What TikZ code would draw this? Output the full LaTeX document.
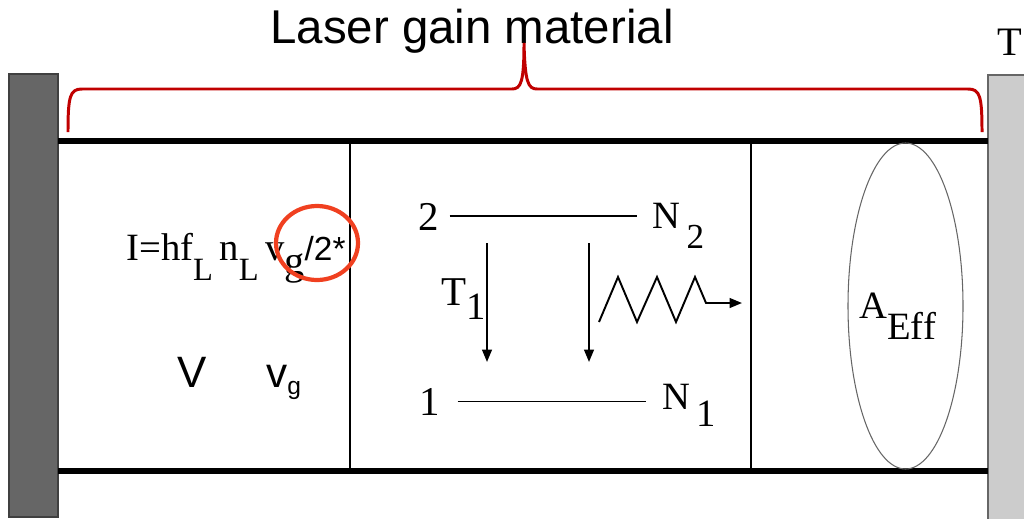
\documentclass[tikz,border=0pt]{standalone}
\usepackage{fontspec}
\setmainfont{Liberation Serif}
\newfontfamily\arialfont{Liberation Sans}
\usepackage{tikz}
\usetikzlibrary{arrows.meta}
\definecolor{mirrordark}{RGB}{102, 102, 102}
\definecolor{mirrorlight}{RGB}{204, 204, 204}
\definecolor{bracered}{RGB}{192, 0, 0}
\definecolor{markred}{RGB}{240, 64, 32}
\newcommand{\dnsub}[3]{\raisebox{-#1}{\fontsize{#2}{#2}\selectfont #3}}

\begin{document}
\begin{tikzpicture}[
    x=0.02cm, y=-0.02cm,
    >={Triangle[length=7pt, width=5.5pt]},
    % Text Styles
    serif/.style={inner sep=0pt, anchor=base west, font=\fontsize{#1}{#1}\selectfont},
    sans/.style={inner sep=0pt, anchor=base west, font=\arialfont\fontsize{#1}{#1}\selectfont},
    % Shape Styles
    mirror/.style={fill=#1, draw=black!75, line width=0.8pt},
    wall/.style={line width=2.9pt, color=black},
    divider/.style={line width=0.8pt, color=black},
    level/.style={line width=1.1pt, color=black},
    decay/.style={->, line width=1.1pt, color=black},
    beam/.style={line width=0.6pt, color=black!60},
    bracepath/.style={line width=1.7pt, color=bracered},
    highlight/.style={line width=2.4pt, color=markred}
]
    \useasboundingbox (0,0) rectangle (1024,518);

    % =========================================================================
    % 1. MIRRORS & CAVITY
    % =========================================================================
    \draw[mirror=mirrordark] (9,74) rectangle (58,517);
    \draw[mirror=mirrorlight, draw=black!60] (988,75) rectangle (1030,525);
    \draw[wall] (58,141) -- (988,141);
    \draw[wall] (58,471) -- (988,471);
    \draw[divider] (350,141) -- (350,471);
    \draw[divider] (751,141) -- (751,471);

    % =========================================================================
    % 2. TITLE & BRACE
    % =========================================================================
    \node[sans=27pt, anchor=base] (title) at (472,43) {Laser gain material};
    \node[serif=23pt] (t_out) at (997,55) {T};
    \draw[bracepath] (68,132) .. controls (68,96) and (70,89) .. (82,89) -- (512,89)
      .. controls (521,89) and (524,82) .. (524,43)
      .. controls (525,82) and (528,89) .. (537,89) -- (968,89)
      .. controls (980,89) and (982,96) .. (982,132);

    % =========================================================================
    % 3. LEFT: INTENSITY
    % =========================================================================
    \node[serif=22pt] (intensity) at (126,260) {I=hf\dnsub{11.4pt}{18.5pt}{L}\,n\dnsub{11.4pt}{18.5pt}{L}\,v\dnsub{8pt}{23pt}{g}{\arialfont\fontsize{19pt}{19pt}\selectfont/2*}};
    \draw[highlight] (317,243) circle [x radius=41, y radius=37];
    \node[sans=25pt] (vol) at (177,387) {V};
    \node[sans=24pt] (v_grp) at (266,387) {v\dnsub{4.5pt}{14pt}{g}};

    % =========================================================================
    % 4. MIDDLE: TWO-LEVEL SYSTEM
    % =========================================================================
    \node[serif=23.3pt] (lvl_up) at (418,230) {2};
    \node[serif=22pt] (n_up) at (652,228) {N\,\dnsub{11.4pt}{20pt}{2}};
    \node[serif=23.3pt] (lvl_lo) at (419,415) {1};
    \node[serif=22pt] (n_lo) at (662,409) {N\,\dnsub{9.7pt}{22pt}{1}};
    \node[serif=23.3pt] (tau) at (441,305) {T\dnsub{8pt}{22pt}{1}};

    \draw[level, shorten <=6pt, shorten >=8.5pt] (lvl_up.east) -- (lvl_up.east -| n_up.west);
    \draw[level, shorten <=10pt, shorten >=9pt] (lvl_lo.east) -- (lvl_lo.east -| n_lo.west);

    \coordinate (tau_top) at (487,243);
    \coordinate (tau_bot) at (487,362);
    \coordinate (stim_top) at (589,243);
    \coordinate (stim_bot) at (589,362);
    \draw[decay] (tau_top) -- (tau_bot);
    \draw[decay] (stim_top) -- (stim_bot);
    \draw[decay] (599,322) -- (618,277) -- (637,322) -- (657,277) -- (676,322) -- (695,277) -- (706,303) -- (742,303);

    % =========================================================================
    % 5. RIGHT: EFFECTIVE AREA
    % =========================================================================
    \draw[beam] (905.5,306) ellipse [x radius=57.5, y radius=163];
    \node[serif=22pt] (a_eff) at (859,318) {A\dnsub{12.5pt}{22pt}{Eff}};

\end{tikzpicture}
\end{document}
